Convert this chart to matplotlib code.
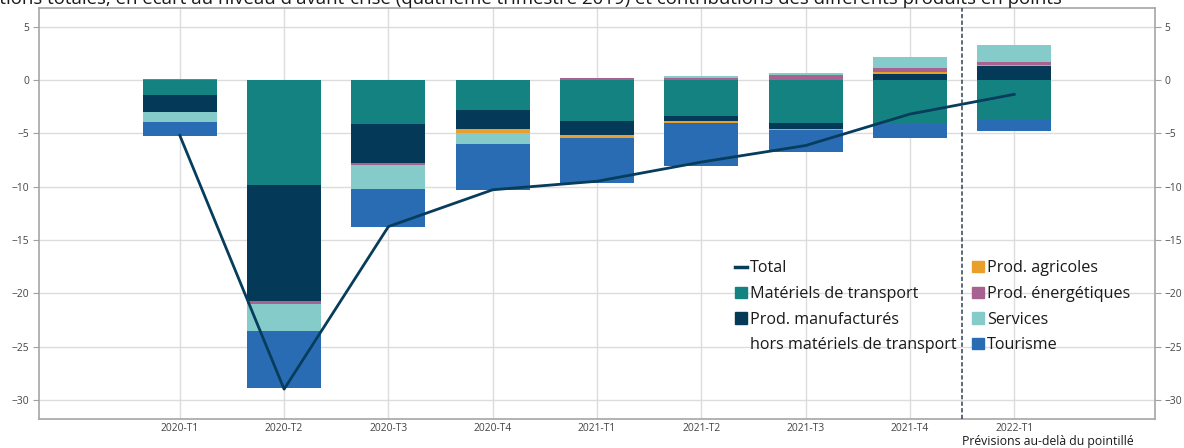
import numpy as np
import matplotlib
matplotlib.use("Agg")
import matplotlib.pyplot as plt
from matplotlib.patches import Patch
from matplotlib.lines import Line2D

plt.rcParams['font.family'] = ['Open Sans', 'DejaVu Sans']

quarters = ['2020-T1', '2020-T2', '2020-T3', '2020-T4', '2021-T1',
            '2021-T2', '2021-T3', '2021-T4', '2022-T1']

# contributions en points
transport = [-1.4, -9.85, -4.1, -2.8, -3.85, -3.35, -4.05, -4.1, -3.75]
manuf = [-1.6, -10.85, -3.65, -1.8, -1.3, -0.5, -0.55, 0.55, 1.3]
agri = [0.0, 0.0, 0.0, -0.35, -0.25, -0.2, -0.1, 0.2, 0.1]
energie = [0.1, -0.3, -0.2, 0.0, 0.2, 0.2, 0.45, 0.4, 0.3]
services = [-0.95, -2.5, -2.25, -1.05, 0.0, 0.2, 0.2, 1.0, 1.6]
tourisme = [-1.3, -5.4, -3.55, -4.3, -4.25, -4.0, -2.05, -1.3, -1.05]
total = [-5.2, -29.0, -13.75, -10.3, -9.5, -7.7, -6.15, -3.2, -1.35]

title = ("Exportations totales, en écart au niveau d'avant-crise "
         "(quatrième trimestre 2019) et contributions des différents produits en points")

c_line = '#063d5c'
series = [
    (transport, 'Matériels de transport', '#158282'),
    (manuf, 'Prod. manufacturés', '#043a57'),
    (agri, 'Prod. agricoles', '#e9a02a'),
    (energie, 'Prod. énergétiques', '#a8628f'),
    (services, 'Services', '#85cbca'),
    (tourisme, 'Tourisme', '#2a6cb4'),
]

x = np.arange(len(quarters))
fig = plt.figure(figsize=(11.84, 4.48), dpi=100)
ax = fig.add_axes([39 / 1184, 1 - 419 / 448, 1116 / 1184, 411 / 448])

# empilement séparé des contributions positives et négatives
pos_base = np.zeros(len(x))
neg_base = np.zeros(len(x))
for vals, label, color in series:
    v = np.array(vals)
    pos = np.where(v > 0, v, 0)
    neg = np.where(v < 0, v, 0)
    ax.bar(x, pos, 0.71, bottom=pos_base, color=color, zorder=2)
    ax.bar(x, neg, 0.71, bottom=neg_base, color=color, zorder=2)
    pos_base += pos
    neg_base += neg

ax.plot(x, total, color=c_line, lw=2, zorder=3)
ax.axvline(7.5, color='#2f4255', lw=1.1, ls=(0, (2.8, 1.5)), zorder=3)

ax.set_xticks(x, quarters)
ax.set_yticks(range(-30, 6, 5))
ax.set_xlim(-1.35, 9.35)
ax.set_ylim(-31.8, 6.75)
ax.grid(color='#dcdcdc', lw=1)
ax.set_axisbelow(True)
ax.tick_params(axis='x', length=0, pad=3, labelsize=7.4, labelcolor='#444444')
ax.tick_params(axis='y', left=True, right=True, labelright=True, length=4,
               width=0.8, color='#a0a0a0', labelsize=7.4, labelcolor='#444444', pad=3)
for s in ax.spines.values():
    s.set_color('#a6a6a6')
    s.set_linewidth(1.2)

# légende en deux colonnes
hA = [Line2D([], [], color=c_line, lw=2.5),
      Patch(color=series[0][2]), Patch(color=series[1][2]),
      Patch(facecolor='none', edgecolor='none')]
lA = ['Total', 'Matériels de transport', 'Prod. manufacturés', 'hors matériels de transport']
hB = [Patch(color=c) for _, _, c in series[2:]]
lB = [l for _, l, _ in series[2:]]
opts = dict(loc='upper left', frameon=False, fontsize=11.6, handlelength=0.72,
            handleheight=0.72, handletextpad=0.2, labelspacing=0.6,
            borderpad=0, borderaxespad=0, labelcolor='#1a1a1a')
legA = ax.legend(hA, lA, bbox_to_anchor=((735 - 39) / 1116, 0.386), **opts)
ax.add_artist(legA)
ax.legend(hB, lB, bbox_to_anchor=((972 - 39) / 1116, 0.386), **opts)

ax.text(7.5, -0.0633, 'Prévisions au-delà du pointillé', transform=ax.get_xaxis_transform(),
        ha='left', va='baseline', fontsize=8.8, color='#1a1a1a')
fig.text(1062 / 1184, 1 - 4 / 448, title, ha='right', va='baseline', fontsize=13.4,
         color='#1a1a1a')

fig.savefig('out.png', dpi=100)
